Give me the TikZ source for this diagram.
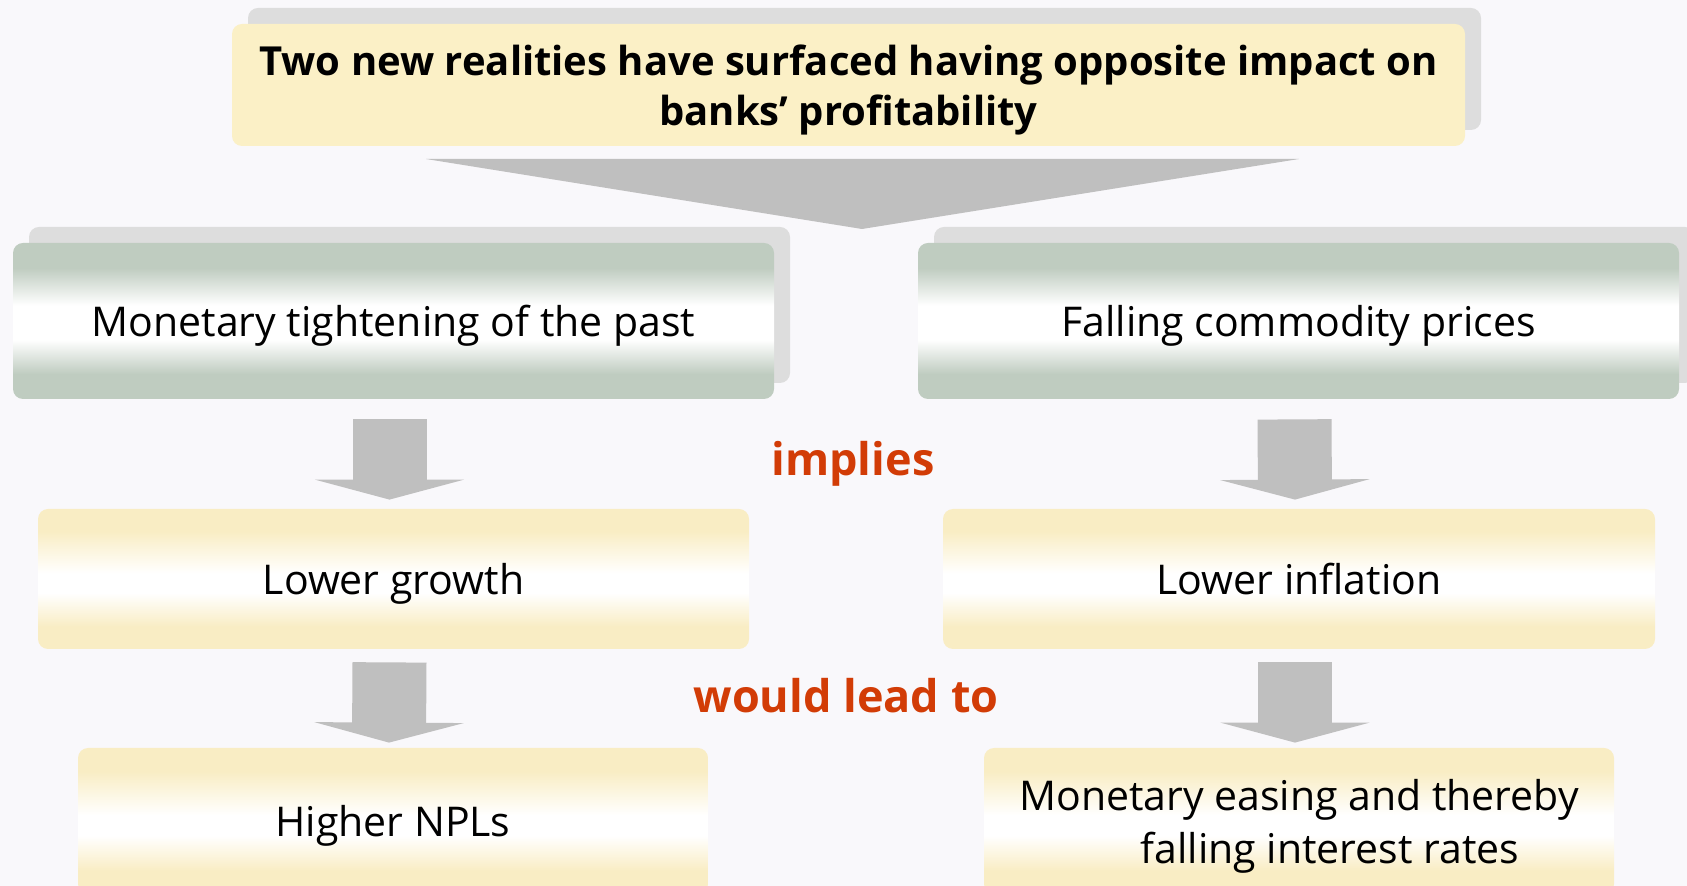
\documentclass[tikz,border=0pt]{standalone}
\usepackage{fontspec}
\setmainfont{Open Sans}
\usepackage{xcolor}
\usepackage{tikz}
\usetikzlibrary{arrows.meta,shadows}

\definecolor{pagebg}{RGB}{249,248,251}
\definecolor{headyellow}{RGB}{251,240,198}
\definecolor{shadowgray}{RGB}{221,221,221}
\definecolor{arrowgray}{RGB}{191,191,191}
\definecolor{sage}{RGB}{191,204,192}
\definecolor{cream}{RGB}{249,237,196}
\definecolor{rust}{RGB}{210,60,6}

% box fills: colour at the edges, white band in the middle
\pgfdeclareverticalshading{sagebar}{100bp}{color(0bp)=(sage); color(25bp)=(sage); color(33bp)=(sage); color(44bp)=(white); color(55bp)=(white); color(67bp)=(sage); color(75bp)=(sage); color(100bp)=(sage)}
\pgfdeclareverticalshading{creambar}{100bp}{color(0bp)=(cream); color(25bp)=(cream); color(33bp)=(cream); color(45bp)=(white); color(52bp)=(white); color(67bp)=(cream); color(75bp)=(cream); color(100bp)=(cream)}

\newcommand{\bodysize}{\fontsize{20.5}{26.5}\selectfont}

\begin{document}
\begin{tikzpicture}[x=0.5pt,y=-0.5pt,
  boxshadow/.style={drop shadow={shadow xshift=8pt,shadow yshift=8pt,fill=shadowgray,opacity=1}},
  oneline/.style={text height=19.5pt,text depth=4pt},
  headbox/.style={rounded corners=5pt,fill=headyellow,boxshadow,minimum width=616.5pt,minimum height=61pt,
    align=center,text depth=0pt,font=\bfseries\fontsize{20}{25}\selectfont},
  causebox/.style={rounded corners=5pt,shade,shading=sagebar,boxshadow,minimum width=380.5pt,minimum height=78pt,oneline,font=\bodysize},
  effectbox/.style={rounded corners=5pt,shade,shading=creambar,minimum height=70pt,font=\bodysize},
  flowarrow/.style={draw=arrowgray,line width=37pt,-{Triangle[width=74.5pt,length=10pt]}},
  verb/.style={text=rust,font=\bfseries\fontsize{22.5}{28}\selectfont}]
  \useasboundingbox (0,0) rectangle (1687,886);
  \clip (0,0) rectangle (1687,886);
  \fill[pagebg] (0,0) rectangle (1687,886);

  % heading
  \node[headbox] (head) at (848.5,85) {Two new realities have surfaced having opposite impact on\\banks’ profitability};
  \fill[arrowgray] (426,159) -- (1299,159) -- (862,229) -- cycle;

  % the two realities
  \node[causebox] (tight) at (393.5,321) {Monetary tightening of the past};
  \node[causebox] (comm) at (1298.5,321) {Falling commodity prices};

  % first consequence
  \node[effectbox,oneline,minimum width=355.5pt] (growth) at (393.5,579) {Lower growth};
  \node[effectbox,oneline,minimum width=356pt] (infl) at (1299,579) {Lower inflation};

  % second consequence, cut by the lower edge
  \node[effectbox,oneline,minimum width=315pt,minimum height=73pt] (npl) at (393,821) {Higher NPLs};
  \node[effectbox,minimum width=315pt,minimum height=73pt,align=center,text depth=0pt] (ease) at (1299,821)
    {Monetary easing and thereby\\\hspace*{31pt}falling interest rates};

  % arrows
  \draw[flowarrow] ([xshift=-2pt,yshift=-10pt]tight.south) -- ([xshift=-2pt,yshift=4.5pt]growth.north);
  \draw[flowarrow] ([xshift=-2pt,yshift=-10pt]comm.south) -- ([xshift=-2pt,yshift=4.5pt]infl.north);
  \draw[flowarrow] ([xshift=-2pt,yshift=-6.5pt]growth.south) -- ([xshift=-2pt,yshift=2.5pt]npl.north);
  \draw[flowarrow] ([xshift=-2pt,yshift=-6.5pt]infl.south) -- ([xshift=-2pt,yshift=2.5pt]ease.north);

  \node[verb] (implies) at (853,464) {implies};
  \node[verb] (leadto) at (846,696) {would lead to};
\end{tikzpicture}
\end{document}
